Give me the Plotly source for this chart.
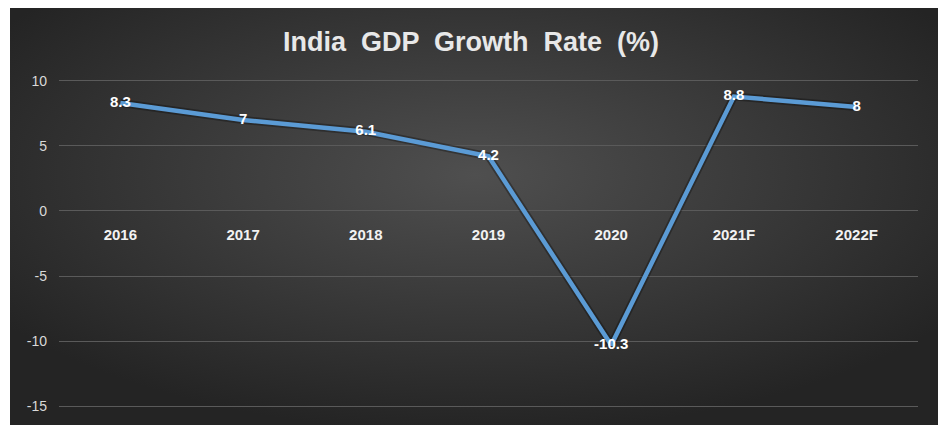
import base64
import plotly.graph_objects as go

years = ["2016", "2017", "2018", "2019", "2020", "2021F", "2022F"]
growth = [8.3, 7, 6.1, 4.2, -10.3, 8.8, 8]
label_text = ["8.3", "7", "6.1", "4.2", "-10.3", "8.8", "8"]
y_ticks = [-15, -10, -5, 0, 5, 10]
y_tick_text = ["-15", "-10", "-5", "0", "5", "10"]

# page has an 8px body margin, so the figure is sized to fit the window
W, H = 938, 417
ML, MR, MT, MB = 51, 28, 71, 17
Y_RANGE = [-15.15, 10.15]

svg = f'''<svg xmlns="http://www.w3.org/2000/svg" width="{W}" height="{H}" viewBox="0 0 {W} {H}" preserveAspectRatio="none">
<defs><radialGradient id="g" cx="50%" cy="40%" r="62%" gradientUnits="objectBoundingBox">
<stop offset="0%" stop-color="#4f4f4f"/><stop offset="100%" stop-color="#242424"/></radialGradient></defs>
<rect x="0" y="0" width="{W}" height="{H}" fill="url(#g)"/></svg>'''
src = "data:image/svg+xml;base64," + base64.b64encode(svg.encode()).decode()

pw = W - ML - MR
ph = H - MT - MB
# dark panel: figure x 2..932, y 0..417
bx0 = (2 - ML) / pw
bx1 = (932 - ML) / pw
by1 = (H - MB) / ph
by0 = -MB / ph

fig = go.Figure()
fig.add_trace(go.Scatter(
    x=years, y=growth, mode="lines",
    line=dict(color="rgba(0,0,0,0.3)", width=8),
    hoverinfo="skip", showlegend=False,
))
fig.add_trace(go.Scatter(
    x=years, y=growth, mode="lines+text",
    line=dict(color="#5b9bd5", width=4.5),
    text=label_text, textposition="middle center",
    textfont=dict(family="Liberation Sans", size=15, color="white", weight="bold"),
    showlegend=False,
))

fig.update_layout(
    width=W, height=H,
    margin=dict(l=ML, r=MR, t=MT, b=MB),
    paper_bgcolor="white",
    plot_bgcolor="rgba(0,0,0,0)",
    images=[dict(source=src, xref="paper", yref="paper", x=bx0, y=by1,
                 sizex=bx1 - bx0, sizey=by1 - by0, xanchor="left", yanchor="top",
                 sizing="stretch", layer="below")],
    title=dict(text="India  GDP  Growth  Rate  (%)", x=(471 - 8) / W, xref="container",
               y=1 - 34 / H, yref="container", xanchor="center", yanchor="middle",
               font=dict(family="Liberation Sans", size=27, color="#e8e8e8", weight="bold")),
    xaxis=dict(
        type="category", range=[-0.5, 6.5], showgrid=False, zeroline=False,
        showline=False, anchor="free",
        position=(0 - Y_RANGE[0]) / (Y_RANGE[1] - Y_RANGE[0]),
        ticks="", ticklabelstandoff=13,
        tickfont=dict(family="Liberation Sans", size=15, color="#f2f2f2", weight="bold"),
    ),
    yaxis=dict(
        range=Y_RANGE, tickvals=y_ticks, ticktext=y_tick_text, showgrid=True,
        gridcolor="#5a5a5a", gridwidth=1, zeroline=False, showline=False, ticks="",
        ticklabelstandoff=11,
        tickfont=dict(family="Liberation Sans", size=14, color="#d9d9d9"),
    ),
)

fig.write_html("out.html")
